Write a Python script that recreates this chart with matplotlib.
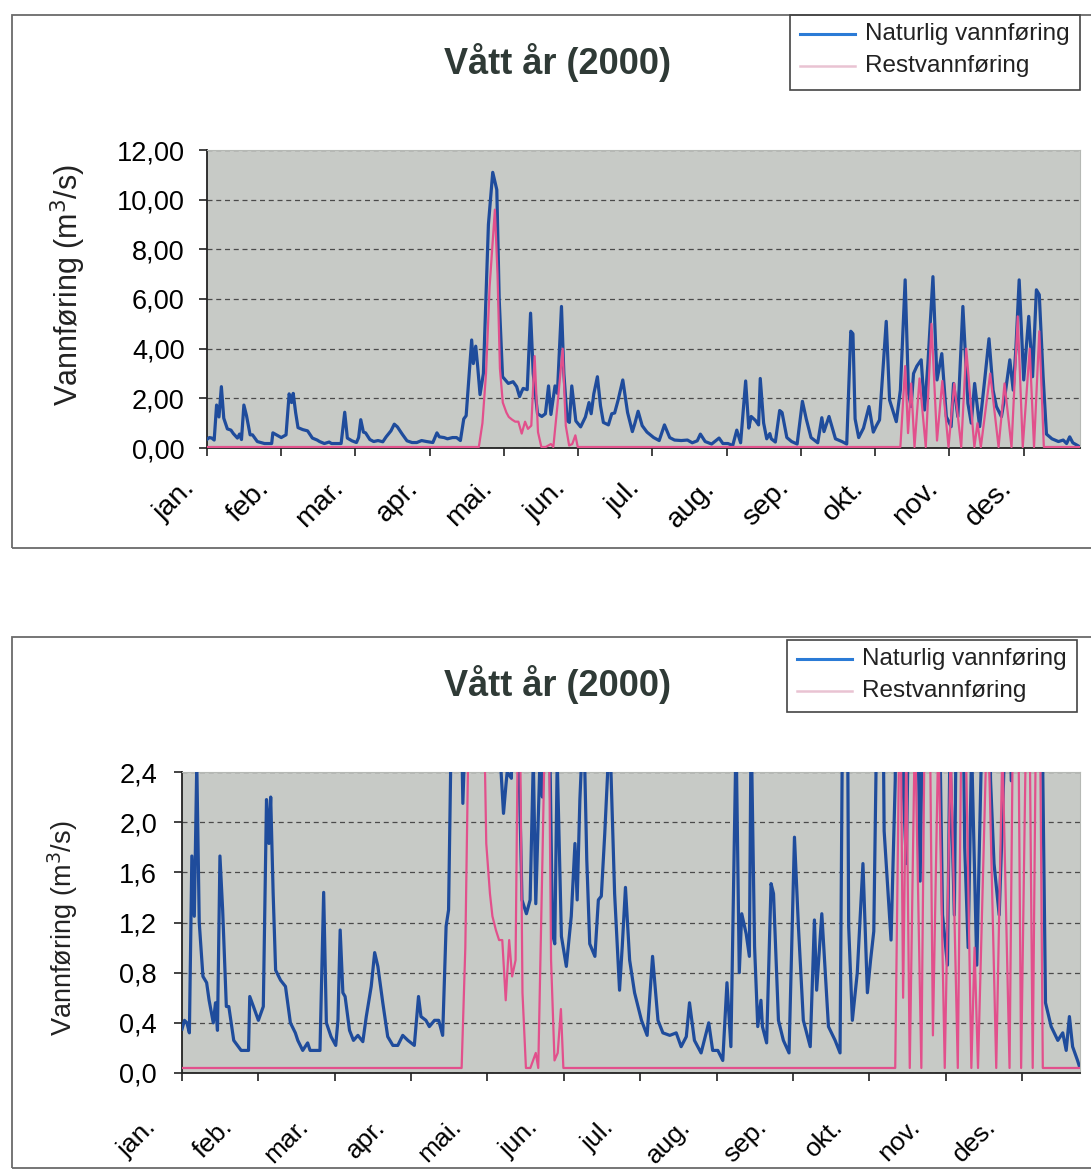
import matplotlib
matplotlib.use("Agg")
import matplotlib.pyplot as plt
from matplotlib.patches import Rectangle
from matplotlib.lines import Line2D
from matplotlib.transforms import ScaledTranslation

plt.rcParams['font.family'] = ['Liberation Sans', 'DejaVu Sans']

# Daglig vannføring lest av figuren (dag i året, m3/s)
dag = [0, 1, 2, 3, 4, 5, 6, 7, 8.5, 10, 11, 12.7, 13.6, 14.4, 15.4, 16.5, 18, 19, 21, 24,
       27, 27.5, 29, 31, 33, 34.3, 35.3, 36, 37, 38, 40, 42, 44, 46, 47, 49, 51, 52, 56,
       57.5, 58.6, 60.5, 62.4, 63.3, 64.2, 65.3, 66.2, 68, 69.6, 71.4, 73.4, 74.8, 76.8,
       78.2, 79.5, 81.5, 83.5, 85.6, 87.6, 89.6, 91.7, 94.3, 96, 97, 99, 100.4, 102.5,
       104.2, 105.8, 107.2, 108.2, 109.5, 110.5, 111.2, 112.2, 113, 114, 115.4, 117.5,
       119.3, 121, 122, 123.4, 125.8, 127.8, 129.3, 130.5, 131.5, 132, 133.7, 135.1,
       136.2, 138, 139.8, 141.3, 142.6, 143.6, 145.3, 146.3, 148, 149, 150.4, 151.3,
       152.3, 154, 156, 158, 159.5, 160.4, 161.5, 163, 164.3, 165.5, 167.6, 169, 170.2,
       171.6, 173.6, 175.6, 177.6, 178.7, 180, 181.7, 183.7, 186.5, 188.8, 191, 193.2,
       195.2, 198, 200.6, 202.6, 204.7, 206, 208, 210.7, 213.8, 215.4, 217.5, 219.5,
       221.2, 222.8, 224.9, 226.2, 227.2, 229, 230.3, 231, 232.4, 233.7, 235, 235.6,
       237.3, 239.1, 240.1, 242.1, 244.1, 246.4, 248.6, 250.2, 252.2, 255, 256.7, 257.6,
       259.7, 262.4, 265.1, 267.1, 268.8, 269.7, 270.6, 272.1, 274.1, 276.4, 278.2,
       279.5, 280.8, 283.6, 285, 287.8, 289.5, 291.5, 292.9, 294, 295, 296.4, 298.2,
       299.6, 301, 303.1, 304.8, 306.8, 308.7, 310.7, 311.7, 313.5, 315.6, 317.7, 319.1,
       320.5, 322.6, 324.7, 326.5, 328.2, 329.6, 331.7, 333.1, 335.2, 336.6, 337.7,
       339.1, 341, 343.1, 344.7, 346.3, 347.5, 349.1, 350.5, 352.8, 355.5, 357.5, 358.9,
       360.2, 361.5, 363.5, 364.3]
naturlig = [0.35, 0.42, 0.40, 0.32, 1.73, 1.25, 2.47, 1.20, 0.77, 0.72, 0.58, 0.40, 0.56,
            0.34, 1.73, 1.30, 0.53, 0.53, 0.26, 0.18, 0.18, 0.61, 0.53, 0.42, 0.53, 2.18,
            1.83, 2.20, 1.43, 0.82, 0.74, 0.69, 0.40, 0.32, 0.26, 0.18, 0.24, 0.18, 0.18,
            1.44, 0.40, 0.29, 0.22, 0.42, 1.14, 0.64, 0.61, 0.34, 0.26, 0.30, 0.25, 0.45,
            0.69, 0.96, 0.85, 0.56, 0.29, 0.22, 0.22, 0.30, 0.26, 0.22, 0.61, 0.45, 0.42,
            0.37, 0.42, 0.42, 0.30, 1.17, 1.30, 3.00, 4.35, 3.40, 4.10, 3.30, 2.15, 3.00,
            9.00, 11.10, 10.40, 6.00, 2.87, 2.60, 2.67, 2.47, 2.07, 2.30, 2.40, 2.35, 5.43,
            3.00, 1.38, 1.27, 1.38, 2.50, 1.35, 2.50, 2.20, 5.70, 3.00, 1.11, 1.03, 2.50,
            1.09, 0.85, 1.25, 1.83, 1.38, 2.18, 2.87, 1.70, 1.03, 0.93, 1.38, 1.41, 1.91,
            2.74, 1.43, 0.66, 1.01, 1.48, 0.90, 0.64, 0.42, 0.30, 0.93, 0.42, 0.32, 0.30,
            0.32, 0.21, 0.29, 0.56, 0.26, 0.16, 0.40, 0.18, 0.18, 0.10, 0.72, 0.21, 2.70,
            0.80, 1.27, 1.11, 0.93, 2.80, 1.01, 0.37, 0.58, 0.37, 0.24, 1.51, 1.43, 0.42,
            0.26, 0.16, 1.88, 1.17, 0.42, 0.21, 1.22, 0.66, 1.27, 0.37, 0.26, 0.16, 4.70,
            4.60, 1.17, 0.42, 0.80, 1.67, 0.64, 0.90, 1.13, 5.10, 1.93, 1.06, 2.33, 6.77,
            2.20, 1.67, 3.00, 3.30, 3.55, 1.53, 3.40, 6.90, 2.74, 3.80, 1.26, 0.86, 2.60,
            1.26, 5.70, 1.80, 1.00, 2.60, 0.86, 2.74, 4.40, 2.33, 1.67, 1.26, 2.07, 3.55,
            2.33, 3.95, 6.77, 2.74, 5.30, 2.87, 6.37, 6.17, 2.87, 0.56, 0.37, 0.26, 0.32,
            0.18, 0.45, 0.21, 0.10, 0.05]

dag_rest = [0, 113.5, 115, 116.5, 118, 120.2, 121.3, 122.3, 123.5, 125, 126, 127.4, 128.7,
            130, 131.4, 132.8, 134, 135.4, 136.8, 138.2, 139.6, 141.4, 143.6, 144.6, 146.3,
            148.5, 149.3, 149.8, 151.2, 152.5, 153.8, 154.8, 289.5, 291.5, 292.7, 294,
            295.4, 297.5, 300.1, 302.5, 304.8, 307, 309.6, 312, 314.9, 317, 320.4, 321.7,
            323.1, 327, 330.5, 333, 335.9, 338.5, 340.6, 343.5, 345.3, 347.5, 349.4, 364.3]
rest = [0.04, 0.04, 1.00, 3.00, 6.50, 9.60, 7.00, 3.20, 1.83, 1.43, 1.25, 1.14, 1.06,
        1.06, 0.58, 1.06, 0.77, 0.90, 3.70, 0.64, 0.04, 0.04, 0.16, 0.04, 1.70,
        4.00, 2.00, 0.90, 0.10, 0.16, 0.51, 0.04, 0.04, 3.30, 0.60, 2.60,
        0.04, 2.80, 0.04, 5.00, 0.30, 2.70, 0.04, 2.60, 0.04, 4.00, 0.04, 1.00,
        0.04, 3.00, 0.04, 2.60, 0.04, 5.30, 0.04, 4.00, 0.04, 4.70, 0.04, 0.04]

maaneder = ['jan.', 'feb.', 'mar.', 'apr.', 'mai.', 'jun.', 'jul.', 'aug.', 'sep.',
            'okt.', 'nov.', 'des.']
maaned_start = [0, 31, 62, 93, 124, 155, 186, 217, 248, 279, 310, 341]

tittel = 'Vått år (2000)'
ylabel = 'Vannføring (m$^3$/s)'

W, H = 1091, 1170
fig = plt.figure(figsize=(W / 100, H / 100), dpi=100)


def fx(px):
    return px / W


def fy(py):
    return 1 - py / H


def tegn_diagram(boks, ramme, legboks, ymax, ysteg, yfmt, tittel_y, ylab_x, ylab_y,
                 fs_tick, ypad, fs_ylab, fs_xlab, xoff):
    # ramme rundt hele diagrammet
    x0, y0, x1, y1 = ramme
    fig.add_artist(Rectangle((fx(x0), fy(y1)), fx(x1 - x0) + 0.02, fy(y0) - fy(y1),
                             transform=fig.transFigure, fill=False, ec='#6a6a6a', lw=1.3))
    l, t, r, b = boks
    ax = fig.add_axes([fx(l), fy(b), fx(r - l), fy(t) - fy(b)])
    ax.set_facecolor('#c7cac6')
    ax.plot(dag, naturlig, color='#1f4c9c', lw=2.3, zorder=3)
    ax.plot(dag_rest, rest, color='#e2508c', lw=1.6, zorder=4)
    ax.set_xlim(0, 364.5)
    ax.set_ylim(0, ymax)
    yt = [i * ysteg for i in range(int(round(ymax / ysteg)) + 1)]
    ax.set_yticks(yt)
    ax.set_yticklabels([yfmt.format(v).replace('.', ',') for v in yt], fontsize=fs_tick)
    ax.yaxis.grid(True, ls=(0, (4, 3)), color='#4a4a4a', lw=0.9)
    ax.set_axisbelow(True)
    ax.tick_params(axis='both', direction='out', length=6, width=1.2, color='#222')
    ax.tick_params(axis='y', pad=ypad)
    ax.set_xticks(maaned_start)
    ax.set_xticklabels(maaneder, rotation=45, ha='right', va='center',
                       rotation_mode='anchor', fontsize=fs_xlab)
    # månedsnavnene står litt til venstre for merkene, som i Excel
    for lbl in ax.get_xticklabels():
        lbl.set_transform(lbl.get_transform() +
                          ScaledTranslation(xoff[0] / 100, xoff[1] / 100, fig.dpi_scale_trans))
    for s in ['top', 'right']:
        ax.spines[s].set_color('#b5b8b4')
    for s in ['left', 'bottom']:
        ax.spines[s].set_color('#222')
        ax.spines[s].set_linewidth(1.3)

    fig.text(fx(558), fy(tittel_y), tittel, ha='center', va='center', fontsize=26,
             fontweight='bold', color='#2f3a36')
    fig.text(fx(ylab_x), fy(ylab_y), ylabel, rotation=90, ha='center', va='center',
             fontsize=fs_ylab, color='#222')

    # forklaring
    lx0, ly0, lx1, ly1 = legboks
    fig.add_artist(Rectangle((fx(lx0), fy(ly1)), fx(lx1 - lx0), fy(ly0) - fy(ly1),
                             transform=fig.transFigure, fill=False, ec='#444', lw=1.2))
    rad1 = ly0 + 19
    rad2 = ly0 + 51
    fig.add_artist(Line2D([fx(lx0 + 10), fx(lx0 + 65)], [fy(rad1), fy(rad1)],
                          transform=fig.transFigure, color='#2b7bd6', lw=2.2))
    fig.add_artist(Line2D([fx(lx0 + 10), fx(lx0 + 65)], [fy(rad2), fy(rad2)],
                          transform=fig.transFigure, color='#e9c3d2', lw=1.8))
    fig.text(fx(lx0 + 75), fy(rad1), 'Naturlig vannføring', ha='left', va='center',
             fontsize=17.5, color='#222')
    fig.text(fx(lx0 + 75), fy(rad2), 'Restvannføring', ha='left', va='center',
             fontsize=17.5, color='#222')
    return ax


tegn_diagram((207, 150, 1080, 448), (12, 15, 1091, 548), (790, 15, 1080, 90),
             12, 2, '{:.2f}', 62, 68, 285, 19.5, 10, 22, 20.5, (-16, -23))
tegn_diagram((182, 772, 1080, 1073), (12, 637, 1091, 1168), (787, 640, 1077, 712),
             2.4, 0.4, '{:.1f}', 685, 63, 928, 19.5, 12, 19.5, 19, (-30, -37))

fig.savefig('out.png', dpi=100)
